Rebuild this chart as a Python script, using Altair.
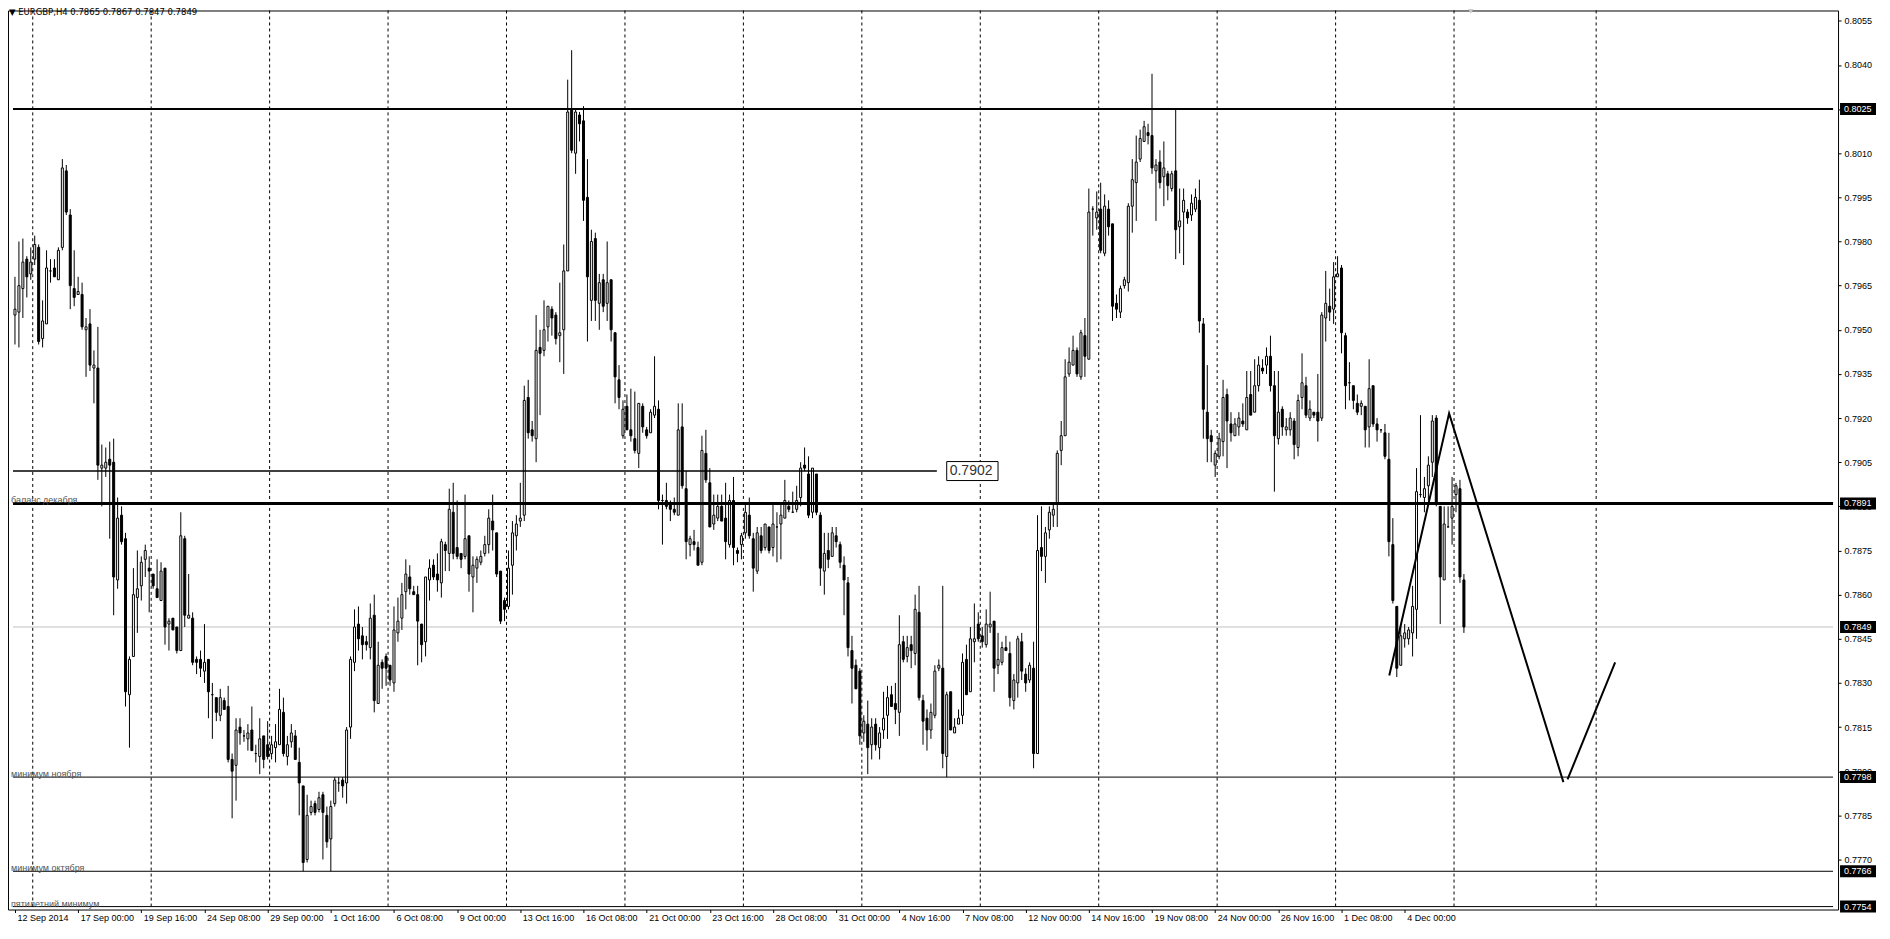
import json
import altair as alt
import pandas as pd

# ---------------- data (prices in pips: price * 10000) ----------------
opens = [
7955,7956,7964,7974,7969,7974,7978,7947,7952,7970,
7971,7967,7978,8004,7989,7964,7962,7962,7950,7952,
7937,7937,7903,7903,7906,7905,7865,7887,7879,7826,
7839,7859,7863,7872,7869,7867,7862,7858,7869,7850,
7852,7849,7841,7879,7852,7852,7838,7838,7834,7838,
7826,7825,7819,7824,7822,7804,7802,7815,7812,7811,
7814,7806,7805,7812,7809,7806,7808,7809,7820,7805,
7810,7812,7803,7795,7770,7786,7789,7787,7792,7785,
7777,7789,7796,7797,7796,7815,7837,7850,7846,7844,
7842,7853,7823,7837,7839,7836,7830,7847,7852,7861,
7866,7861,7860,7850,7844,7865,7870,7867,7864,7877,
7874,7888,7876,7874,7873,7880,7866,7869,7871,7874,
7877,7885,7881,7868,7858,7856,7870,7880,7885,7887,
7927,7916,7913,7944,7943,7951,7957,7955,7948,7950,
7970,8025,8010,8023,8021,7995,7960,7981,7959,7967,
7959,7967,7949,7933,7914,7924,7916,7913,7908,7924,
7916,7915,7921,7923,7892,7892,7891,7889,7887,7917,
7896,7877,7878,7876,7871,7908,7898,7884,7886,7890,
7886,7877,7892,7875,7877,7881,7887,7879,7868,7880,
7876,7883,7876,7883,7884,7886,7890,7888,7889,7893,
7904,7901,7888,7901,7887,7868,7875,7873,7880,7877,
7870,7864,7841,7836,7834,7813,7816,7809,7816,7808,
7814,7819,7826,7823,7820,7844,7839,7843,7840,7854,
7824,7818,7814,7819,7835,7835,7805,7827,7813,7816,
7819,7838,7827,7844,7850,7846,7843,7849,7851,7836,
7837,7842,7840,7824,7830,7844,7833,7831,7835,7806,
7876,7873,7882,7887,7891,7909,7914,7935,7938,7943,
7934,7948,7940,7991,7988,7991,7976,7991,7986,7959,
7956,7965,7966,7992,8000,8008,8014,8017,8016,8004,
8007,8002,8003,7998,8004,7985,7990,7990,7989,7991,
7994,7952,7922,7914,7904,7907,7912,7928,7918,7914,
7917,7919,7916,7928,7922,7931,7937,7938,7941,7931,
7913,7923,7916,7916,7919,7910,7927,7931,7920,7922,
7922,7920,7954,7958,7957,7968,7971,7948,7932,7931,
7925,7924,7924,7917,7931,7918,7916,7915,7906,7877,
7856,7836,7845,7845,7847,7855,7894,7893,7897,7905,
7920,7890,7865,7883,7886,7894,7896,7865,
]
highs = [
7968,7980,7981,7975,7978,7982,7979,7960,7977,7974,
7974,7978,8008,8006,7991,7977,7968,7966,7954,7957,
7943,7951,7911,7910,7912,7913,7893,7890,7881,7839,
7869,7875,7873,7877,7873,7867,7872,7871,7869,7852,
7852,7849,7888,7880,7867,7854,7839,7841,7850,7838,
7830,7825,7828,7825,7829,7806,7818,7818,7814,7816,
7822,7809,7818,7812,7817,7812,7816,7828,7825,7812,
7816,7814,7808,7795,7792,7790,7790,7793,7793,7788,
7790,7798,7798,7798,7815,7839,7855,7856,7849,7846,
7857,7860,7844,7838,7840,7836,7856,7859,7864,7872,
7870,7863,7863,7850,7866,7872,7872,7874,7879,7878,
7896,7898,7892,7874,7894,7880,7873,7873,7875,7880,
7889,7894,7881,7868,7859,7875,7885,7887,7898,7931,
7933,7919,7955,7950,7960,7958,7958,7956,7966,7979,
8035,8045,8025,8024,8026,8008,7984,7983,7969,7969,
7980,7967,7949,7938,7926,7928,7930,7929,7925,7925,
7917,7923,7941,7926,7894,7898,7892,7893,7925,7925,
7902,7880,7882,7878,7914,7916,7903,7894,7894,7894,
7898,7894,7900,7876,7881,7891,7893,7881,7883,7883,
7884,7883,7891,7888,7891,7899,7892,7895,7897,7905,
7910,7907,7903,7901,7888,7881,7881,7883,7883,7878,
7873,7866,7846,7838,7835,7819,7824,7818,7818,7815,
7827,7829,7829,7830,7853,7846,7846,7846,7860,7863,
7826,7821,7823,7836,7838,7863,7827,7827,7818,7821,
7840,7843,7849,7857,7854,7849,7855,7861,7851,7847,
7844,7846,7844,7833,7846,7847,7835,7837,7844,7887,
7890,7883,7890,7891,7909,7919,7940,7944,7948,7944,
7950,7954,7998,7992,7997,8000,7996,7994,7986,7962,
7965,7968,7993,8008,8016,8018,8021,8020,8037,8008,
8011,8014,8004,8004,8025,7998,7998,7991,7996,7998,
8001,7954,7938,7916,7909,7915,7933,7930,7922,7920,
7922,7925,7936,7936,7940,7941,7940,7944,7948,7936,
7936,7924,7920,7922,7920,7928,7942,7934,7926,7922,
7935,7956,7970,7964,7973,7975,7972,7949,7939,7931,
7928,7926,7924,7940,7931,7920,7916,7918,7915,7886,
7856,7850,7850,7849,7863,7903,7921,7900,7907,7921,
7921,7890,7890,7890,7900,7898,7899,7867,
]
lows = [
7945,7944,7954,7961,7967,7972,7945,7944,7952,7966,
7968,7967,7977,7989,7957,7958,7962,7950,7934,7936,
7925,7899,7890,7900,7879,7853,7862,7877,7822,7808,
7839,7847,7858,7866,7854,7862,7859,7858,7843,7841,
7848,7840,7841,7849,7852,7836,7833,7832,7830,7818,
7811,7817,7817,7821,7803,7784,7790,7809,7810,7807,
7807,7803,7799,7801,7804,7804,7803,7809,7805,7802,
7808,7804,7785,7766,7769,7785,7785,7786,7770,7774,
7766,7788,7793,7791,7789,7811,7834,7841,7838,7841,
7838,7820,7823,7828,7829,7829,7827,7844,7848,7855,
7860,7860,7836,7837,7839,7858,7865,7861,7859,7868,
7868,7872,7872,7869,7872,7861,7854,7864,7870,7873,
7874,7875,7866,7850,7851,7855,7860,7875,7883,7885,
7913,7912,7905,7921,7941,7946,7948,7945,7939,7935,
7970,8010,8003,8014,7987,7946,7953,7953,7950,7956,
7953,7946,7925,7923,7913,7916,7912,7908,7903,7915,
7913,7915,7920,7889,7877,7889,7885,7887,7887,7896,
7872,7873,7875,7870,7870,7898,7883,7882,7885,7885,
7872,7876,7870,7871,7872,7879,7879,7861,7867,7874,
7875,7874,7873,7871,7872,7886,7888,7888,7888,7890,
7902,7886,7886,7887,7863,7860,7869,7873,7876,7869,
7853,7839,7823,7828,7809,7810,7799,7804,7807,7804,
7811,7811,7822,7816,7812,7837,7837,7835,7836,7824,
7809,7807,7811,7818,7834,7801,7798,7814,7813,7816,
7816,7826,7827,7837,7844,7842,7842,7847,7827,7833,
7836,7841,7822,7821,7825,7831,7827,7830,7801,7806,
7868,7864,7879,7883,7883,7904,7914,7934,7938,7934,
7933,7934,7940,7982,7984,7976,7975,7982,7953,7954,
7954,7964,7963,7983,7987,8007,8014,8013,8003,7987,
7998,7992,7994,7997,7974,7976,7972,7986,7987,7990,
7949,7913,7905,7905,7900,7906,7907,7903,7912,7914,
7914,7917,7916,7921,7922,7929,7935,7935,7929,7895,
7911,7914,7914,7914,7906,7907,7923,7920,7919,7920,
7912,7919,7946,7953,7952,7968,7942,7923,7926,7923,
7921,7921,7910,7910,7917,7912,7915,7906,7873,7857,
7832,7836,7842,7843,7839,7845,7893,7888,7892,7900,
7890,7850,7865,7883,7877,7888,7864,7847,
]
closes = [
7957,7965,7973,7968,7973,7979,7946,7953,7971,7970,
7968,7977,8005,7990,7965,7961,7963,7951,7951,7938,
7938,7904,7904,7905,7904,7866,7886,7878,7827,7838,
7860,7862,7871,7875,7868,7863,7859,7868,7849,7851,
7848,7841,7880,7853,7853,7837,7837,7835,7837,7827,
7826,7820,7825,7821,7804,7800,7814,7813,7812,7813,
7807,7806,7811,7804,7805,7809,7810,7821,7806,7809,
7813,7804,7796,7769,7785,7788,7786,7791,7786,7776,
7788,7797,7796,7795,7814,7838,7849,7845,7843,7843,
7852,7824,7836,7835,7835,7831,7848,7851,7860,7867,
7862,7860,7851,7843,7866,7869,7866,7865,7878,7875,
7889,7874,7873,7872,7879,7867,7870,7872,7873,7877,
7886,7882,7867,7851,7855,7869,7881,7884,7886,7926,
7915,7914,7943,7942,7950,7958,7954,7947,7949,7970,
8024,8011,8024,8020,7994,7968,7980,7960,7966,7958,
7966,7950,7934,7927,7923,7916,7914,7909,7925,7917,
7914,7922,7924,7892,7892,7890,7889,7888,7916,7897,
7878,7879,7877,7870,7909,7899,7883,7887,7890,7885,
7878,7892,7876,7874,7880,7888,7880,7869,7881,7875,
7884,7875,7884,7883,7887,7892,7889,7888,7892,7903,
7903,7887,7903,7888,7869,7874,7872,7881,7878,7871,
7865,7842,7835,7828,7812,7817,7808,7815,7809,7813,
7818,7825,7822,7821,7843,7838,7842,7841,7855,7825,
7817,7814,7820,7834,7836,7806,7826,7814,7815,7818,
7837,7826,7845,7845,7845,7844,7850,7850,7835,7838,
7842,7841,7825,7831,7845,7834,7830,7836,7806,7875,
7873,7881,7888,7889,7908,7914,7934,7939,7943,7935,
7949,7941,7990,7991,7990,7977,7992,7985,7958,7957,
7964,7967,7992,8001,8007,8015,8019,8016,8005,8006,
8000,8005,7999,8003,7984,7987,7994,7988,7993,7995,
7953,7923,7913,7912,7908,7913,7927,7919,7915,7918,
7920,7918,7927,7921,7931,7938,7936,7941,7931,7914,
7922,7917,7917,7920,7911,7926,7932,7921,7923,7921,
7919,7955,7959,7956,7968,7969,7949,7931,7932,7926,
7922,7925,7916,7930,7918,7916,7916,7907,7878,7858,
7835,7846,7847,7848,7856,7895,7894,7896,7904,7919,
7891,7866,7884,7883,7890,7897,7866,7849,
]
assert len(opens) == len(highs) == len(lows) == len(closes) == 368

x_tick_bars = list(range(0, 353, 16))
x_tick_labels = [
    "12 Sep 2014", "17 Sep 00:00", "19 Sep 16:00", "24 Sep 08:00", "29 Sep 00:00",
    "1 Oct 16:00", "6 Oct 08:00", "9 Oct 00:00", "13 Oct 16:00", "16 Oct 08:00",
    "21 Oct 00:00", "23 Oct 16:00", "28 Oct 08:00", "31 Oct 00:00", "4 Nov 16:00",
    "7 Nov 08:00", "12 Nov 00:00", "14 Nov 16:00", "19 Nov 08:00", "24 Nov 00:00",
    "26 Nov 16:00", "1 Dec 08:00", "4 Dec 00:00",
]
y_tick_values = [0.7770, 0.7785, 0.7800, 0.7815, 0.7830, 0.7845, 0.7860, 0.7875,
                 0.7890, 0.7905, 0.7920, 0.7935, 0.7950, 0.7965, 0.7980, 0.7995,
                 0.8010, 0.8025, 0.8040, 0.8055]
grid_bars = [4.5, 34.5, 64.5, 94.5, 124.5, 154.5, 184.5, 214.5, 244.5, 274.5,
             304.5, 334.5, 364.5, 400.5]

level_prices = [0.8025, 0.7902, 0.7891, 0.7798, 0.7766, 0.7754]
level_ends = [460.5, 233.5, 460.5, 460.5, 460.5, 460.5]
level_widths = [2, 1.5, 3, 1, 1, 1]

current_price = [0.7849]
box_prices = [0.8025, 0.7891, 0.7849, 0.7798, 0.7766, 0.7754]

note_texts = ["баланс декабря", "минимум ноября", "минимум октября", "пятилетний минимум"]
note_prices = [0.7891, 0.7798, 0.7766, 0.7754]
note_dy = [-5, -4, -4, -4]

tag_price = [0.7902]
tag_start = [236.0]
tag_end = [249.0]

zz_seg = [0, 0, 0, 1, 1]
zz_bar = [348.1, 363.25, 392.2, 393.25, 405.3]
zz_price = [0.78325, 0.79216, 0.77963, 0.77972, 0.7837]

header_text = ["▼ EURGBP,H4  0.7865 0.7867 0.7847 0.7849"]
shift_marker_bar = [368.75]

# ---------------- frames ----------------
df = pd.DataFrame({
    "bar": list(range(len(opens))),
    "open": [v / 10000 for v in opens],
    "high": [v / 10000 for v in highs],
    "low": [v / 10000 for v in lows],
    "close": [v / 10000 for v in closes],
})
df["dir"] = ["up" if c >= o else "down" for o, c in zip(opens, closes)]

levels = pd.DataFrame({"price": level_prices, "start": [-0.5] * len(level_prices),
                       "end": level_ends, "w": level_widths})
grid_df = pd.DataFrame({"bar": grid_bars})
cur_df = pd.DataFrame({"price": current_price, "start": [-0.5], "end": [460.5]})
box_df = pd.DataFrame({"price": box_prices,
                       "label": [f"{p:.4f}" for p in box_prices]})
notes_df = pd.DataFrame({"text": note_texts, "price": note_prices, "dy": note_dy})
tag_df = pd.DataFrame({"price": tag_price, "x0": tag_start, "x1": tag_end,
                       "label": [f"{p:.4f}" for p in tag_price]})
zz_df = pd.DataFrame({"seg": zz_seg, "bar": zz_bar, "price": zz_price,
                      "ord": list(range(len(zz_bar)))})
head_df = pd.DataFrame({"text": header_text})
shift_df = pd.DataFrame({"bar": shift_marker_bar})

# ---------------- scales / axes ----------------
W, H = 1832, 900
FONT = "Liberation Sans"
xs = alt.Scale(domain=[-0.5, 460.5], nice=False, zero=False)
ys = alt.Scale(domain=[0.77530, 0.80585], nice=False, zero=False)

x_axis = alt.Axis(values=x_tick_bars, labelExpr=json.dumps(x_tick_labels) + "[round(datum.value/16)]",
                  title=None, grid=False, domain=False, orient="bottom", tickSize=3,
                  tickColor="black", labelAlign="left", labelOffset=2, labelPadding=1,
                  labelFont=FONT, labelFontSize=9, labelColor="black",
                  labelOverlap=False, labelFlush=False, labelBound=False)
y_axis = alt.Axis(values=y_tick_values, format=".4f", orient="right", title=None,
                  grid=False, domain=False, tickSize=3, tickColor="black",
                  labelPadding=3, labelFont=FONT, labelFontSize=9, labelColor="black",
                  labelOverlap=False, labelFlush=False, labelBound=False)


def X(field):
    return alt.X(field, type="quantitative", scale=xs, axis=x_axis)


def Y(field):
    return alt.Y(field, type="quantitative", scale=ys, axis=y_axis)


# ---------------- layers ----------------
grid = alt.Chart(grid_df).mark_rule(color="black", strokeWidth=1, strokeDash=[3, 3]).encode(
    x=X("bar"), y=alt.value(0), y2=alt.value(H))

cur_line = alt.Chart(cur_df).mark_rule(color="#c0c0c0", strokeWidth=1).encode(
    x=X("start"), x2="end", y=Y("price"))

wicks = alt.Chart(df).mark_rule(color="black", strokeWidth=1).encode(
    x=X("bar"), y=Y("low"), y2="high")

bodies = alt.Chart(df).mark_bar(size=2, stroke="black", strokeWidth=1, orient="vertical").encode(
    x=X("bar"), y=Y("open"), y2="close",
    fill=alt.Fill("dir:N", scale=alt.Scale(domain=["up", "down"], range=["white", "black"]),
                  legend=None))

level_lines = alt.Chart(levels).mark_rule(color="black", strokeCap="butt").encode(
    x=X("start"), x2="end", y=Y("price"),
    strokeWidth=alt.StrokeWidth("w:Q", scale=None, legend=None))

zigzag = alt.Chart(zz_df).mark_line(color="black", strokeWidth=2).encode(
    x=X("bar"), y=Y("price"), detail="seg:N", order="ord:Q")

tag_box = alt.Chart(tag_df).mark_rect(fill="white", stroke="black", strokeWidth=1,
                                      yOffset=-9.5, y2Offset=9.5).encode(
    x=X("x0"), x2="x1", y=Y("price"), y2="price")
tag_text = alt.Chart(tag_df).mark_text(align="left", baseline="middle", dx=3, font=FONT,
                                       fontSize=14, color="#333333").encode(
    x=X("x0"), y=Y("price"), text="label:N")

notes = alt.Chart(notes_df).mark_text(align="left", baseline="alphabetic", font=FONT,
                                      fontSize=9, color="#555555").encode(
    x=alt.value(3), y=Y("price"), text="text:N", yOffset=alt.YOffset("dy:Q", scale=None))

box_rules = alt.Chart(box_df).mark_rule(color="black", strokeWidth=12, strokeCap="butt").encode(
    x=alt.value(W + 2), x2=alt.value(W + 38), y=Y("price"))
box_texts = alt.Chart(box_df).mark_text(align="left", baseline="middle", font=FONT,
                                        fontSize=9, color="white").encode(
    x=alt.value(W + 6), y=Y("price"), text="label:N")

header = alt.Chart(head_df).mark_text(align="left", baseline="middle", font="DejaVu Sans",
                                      fontSize=8.5, color="black").encode(
    x=alt.value(1), y=alt.value(2), text="text:N")

shift_mark = alt.Chart(shift_df).mark_point(shape="triangle-down", filled=True,
                                            color="#c8c8c8", size=30, opacity=1).encode(
    x=X("bar"), y=alt.value(1))

chart = alt.layer(
    grid, cur_line, wicks, bodies, level_lines, zigzag, tag_box, tag_text,
    notes, box_rules, box_texts, header, shift_mark
).properties(
    width=W, height=H, background="white",
    padding={"left": 0, "top": 0, "right": 0, "bottom": 0},
).configure_view(stroke="black", strokeWidth=1)

chart.save("out.html", embed_options={"renderer": "svg", "actions": False})
